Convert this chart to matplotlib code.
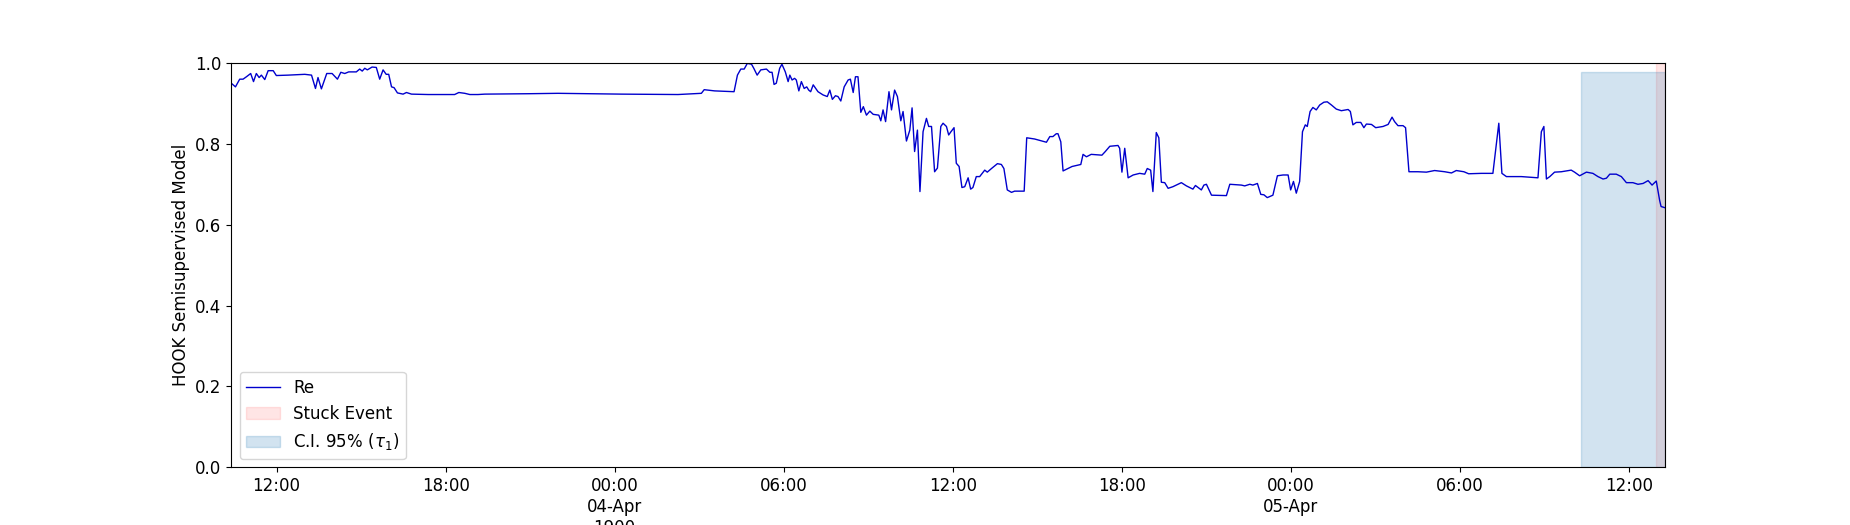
import matplotlib.pyplot as plt
import matplotlib.patches as mpatches
import pandas as pd

# zeitachse: stunden ab 1900-04-03 00:00
start = pd.Timestamp('1900-04-03 00:00')

hours = [
    10.39, 10.54, 10.69, 10.81, 10.93, 11.08, 11.18, 11.28, 11.38, 11.46,
    11.58, 11.70, 11.88, 11.99, 12.41, 13.00, 13.24, 13.38, 13.47, 13.59,
    13.78, 13.97, 14.16, 14.28, 14.42, 14.56, 14.83, 14.95, 15.04, 15.13,
    15.22, 15.39, 15.54, 15.66, 15.78, 15.89, 15.98, 16.08, 16.17, 16.29,
    16.49, 16.61, 16.79, 17.38, 18.32, 18.47, 18.68, 18.86, 19.15, 19.39,
    20.93, 21.99, 23.06, 24.24, 26.25, 27.08, 27.18, 27.55, 28.24, 28.36,
    28.48, 28.60, 28.71, 28.86, 28.94, 29.06, 29.19, 29.39, 29.51, 29.59,
    29.66, 29.74, 29.86, 29.94, 30.06, 30.16, 30.22, 30.30, 30.39, 30.45,
    30.54, 30.63, 30.73, 30.82, 30.89, 30.96, 31.05, 31.22, 31.40, 31.55,
    31.64, 31.73, 31.84, 31.93, 32.03, 32.15, 32.29, 32.37, 32.47, 32.55,
    32.64, 32.74, 32.83, 32.94, 33.06, 33.18, 33.38, 33.45, 33.53, 33.62,
    33.74, 33.83, 33.94, 34.04, 34.16, 34.24, 34.36, 34.48, 34.56, 34.65,
    34.75, 34.84, 34.95, 35.07, 35.15, 35.25, 35.36, 35.46, 35.58, 35.66,
    35.78, 35.86, 35.93, 36.05, 36.13, 36.23, 36.33, 36.43, 36.55, 36.64,
    36.72, 36.84, 36.96, 37.14, 37.23, 37.38, 37.59, 37.73, 37.82, 37.94,
    38.09, 38.20, 38.54, 38.63, 38.91, 39.33, 39.45, 39.56, 39.68, 39.74,
    39.84, 39.92, 40.24, 40.55, 40.63, 40.75, 40.92, 41.30, 41.42, 41.58,
    41.87, 41.93, 42.01, 42.11, 42.23, 42.41, 42.64, 42.82, 42.91, 43.03,
    43.11, 43.23, 43.32, 43.41, 43.53, 43.65, 43.82, 44.12, 44.30, 44.53,
    44.62, 44.83, 44.92, 45.01, 45.19, 45.72, 45.84, 46.25, 46.37, 46.55,
    46.66, 46.82, 46.94, 47.05, 47.17, 47.37, 47.53, 47.73, 47.91, 48.00,
    48.10, 48.20, 48.32, 48.42, 48.52, 48.59, 48.69, 48.79, 48.91, 49.03,
    49.18, 49.30, 49.45, 49.62, 49.80, 50.04, 50.12, 50.21, 50.33, 50.49,
    50.60, 50.69, 50.87, 51.02, 51.28, 51.46, 51.60, 51.69, 51.81, 51.99,
    52.08, 52.20, 52.52, 52.82, 53.11, 53.47, 53.71, 53.88, 54.15, 54.32,
    54.77, 55.18, 55.39, 55.50, 55.66, 56.19, 56.78, 56.90, 56.99, 57.08,
    57.20, 57.37, 57.61, 57.96, 58.08, 58.26, 58.50, 58.73, 58.91, 59.09,
    59.21, 59.33, 59.56, 59.74, 59.92, 60.15, 60.33, 60.51, 60.69, 60.83,
    60.98, 61.10, 61.15, 61.29,
]

re_score = [
    0.950, 0.941, 0.960, 0.960, 0.966, 0.974, 0.954, 0.974, 0.964, 0.970,
    0.959, 0.981, 0.981, 0.969, 0.970, 0.972, 0.970, 0.937, 0.964, 0.936,
    0.974, 0.974, 0.960, 0.977, 0.974, 0.978, 0.978, 0.985, 0.980, 0.987,
    0.983, 0.990, 0.989, 0.960, 0.983, 0.972, 0.972, 0.941, 0.939, 0.926,
    0.923, 0.927, 0.923, 0.922, 0.922, 0.927, 0.925, 0.922, 0.922, 0.923,
    0.924, 0.925, 0.924, 0.923, 0.922, 0.925, 0.934, 0.931, 0.929, 0.970,
    0.985, 0.985, 0.999, 0.997, 0.987, 0.970, 0.983, 0.985, 0.977, 0.977,
    0.947, 0.950, 0.987, 0.997, 0.978, 0.954, 0.970, 0.958, 0.962, 0.958,
    0.931, 0.954, 0.937, 0.941, 0.933, 0.929, 0.946, 0.929, 0.921, 0.917,
    0.933, 0.910, 0.919, 0.917, 0.906, 0.941, 0.958, 0.960, 0.927, 0.966,
    0.966, 0.878, 0.892, 0.871, 0.881, 0.873, 0.871, 0.857, 0.884, 0.855,
    0.929, 0.884, 0.933, 0.917, 0.857, 0.880, 0.807, 0.834, 0.889, 0.781,
    0.834, 0.682, 0.830, 0.863, 0.843, 0.843, 0.731, 0.740, 0.843, 0.851,
    0.843, 0.822, 0.829, 0.840, 0.752, 0.744, 0.692, 0.694, 0.716, 0.688,
    0.692, 0.719, 0.719, 0.735, 0.730, 0.739, 0.751, 0.749, 0.739, 0.686,
    0.680, 0.683, 0.683, 0.815, 0.812, 0.804, 0.818, 0.818, 0.825, 0.825,
    0.805, 0.733, 0.744, 0.749, 0.774, 0.768, 0.774, 0.772, 0.781, 0.794,
    0.796, 0.789, 0.730, 0.789, 0.716, 0.723, 0.727, 0.725, 0.739, 0.735,
    0.682, 0.828, 0.815, 0.705, 0.704, 0.690, 0.694, 0.704, 0.696, 0.688,
    0.697, 0.686, 0.698, 0.700, 0.673, 0.672, 0.700, 0.698, 0.696, 0.700,
    0.698, 0.702, 0.675, 0.674, 0.667, 0.673, 0.721, 0.723, 0.723, 0.686,
    0.707, 0.678, 0.707, 0.830, 0.847, 0.843, 0.880, 0.890, 0.884, 0.896,
    0.903, 0.904, 0.896, 0.886, 0.882, 0.885, 0.880, 0.847, 0.853, 0.853,
    0.840, 0.849, 0.848, 0.840, 0.843, 0.848, 0.866, 0.855, 0.845, 0.845,
    0.840, 0.731, 0.731, 0.730, 0.734, 0.731, 0.728, 0.734, 0.731, 0.726,
    0.727, 0.727, 0.851, 0.727, 0.719, 0.719, 0.716, 0.830, 0.843, 0.713,
    0.719, 0.730, 0.731, 0.735, 0.730, 0.721, 0.730, 0.727, 0.719, 0.713,
    0.715, 0.725, 0.725, 0.719, 0.704, 0.704, 0.700, 0.702, 0.709, 0.698,
    0.708, 0.660, 0.645, 0.642,
]

# Stuck Event und Konfidenzintervall (Stunden)
stuck_start = 60.98
ci_start = 58.32
ci_top = 0.977

tick_hours = [12, 18, 24, 30, 36, 42, 48, 54, 60]
tick_labels = ['12:00', '18:00', '00:00\n04-Apr\n1900', '06:00', '12:00',
               '18:00', '00:00\n05-Apr', '06:00', '12:00']

plt.rcParams['font.size'] = 12

t = start + pd.to_timedelta(hours, unit='h')
t_end = t[-1]

fig, ax = plt.subplots(figsize=(18.5, 5.25), dpi=100)

ax.plot(t, re_score, color='mediumblue', linewidth=1, label='Re')
ax.axvspan(start + pd.Timedelta(hours=stuck_start), t_end,
           color='red', alpha=0.1, label='Stuck Event')
ax.axvspan(start + pd.Timedelta(hours=ci_start), t_end, ymin=0, ymax=ci_top,
           color='tab:blue', alpha=0.2, label='C.I. 95% ($\\tau_1$)')

ax.set_xlim(t[0], t_end)
ax.set_ylim(0, 1)
ax.set_xticks(start + pd.to_timedelta(tick_hours, unit='h'))
ax.set_xticklabels(tick_labels)
ax.set_ylabel('HOOK Semisupervised Model')
ax.legend(loc='lower left')

fig.savefig('out.png')
